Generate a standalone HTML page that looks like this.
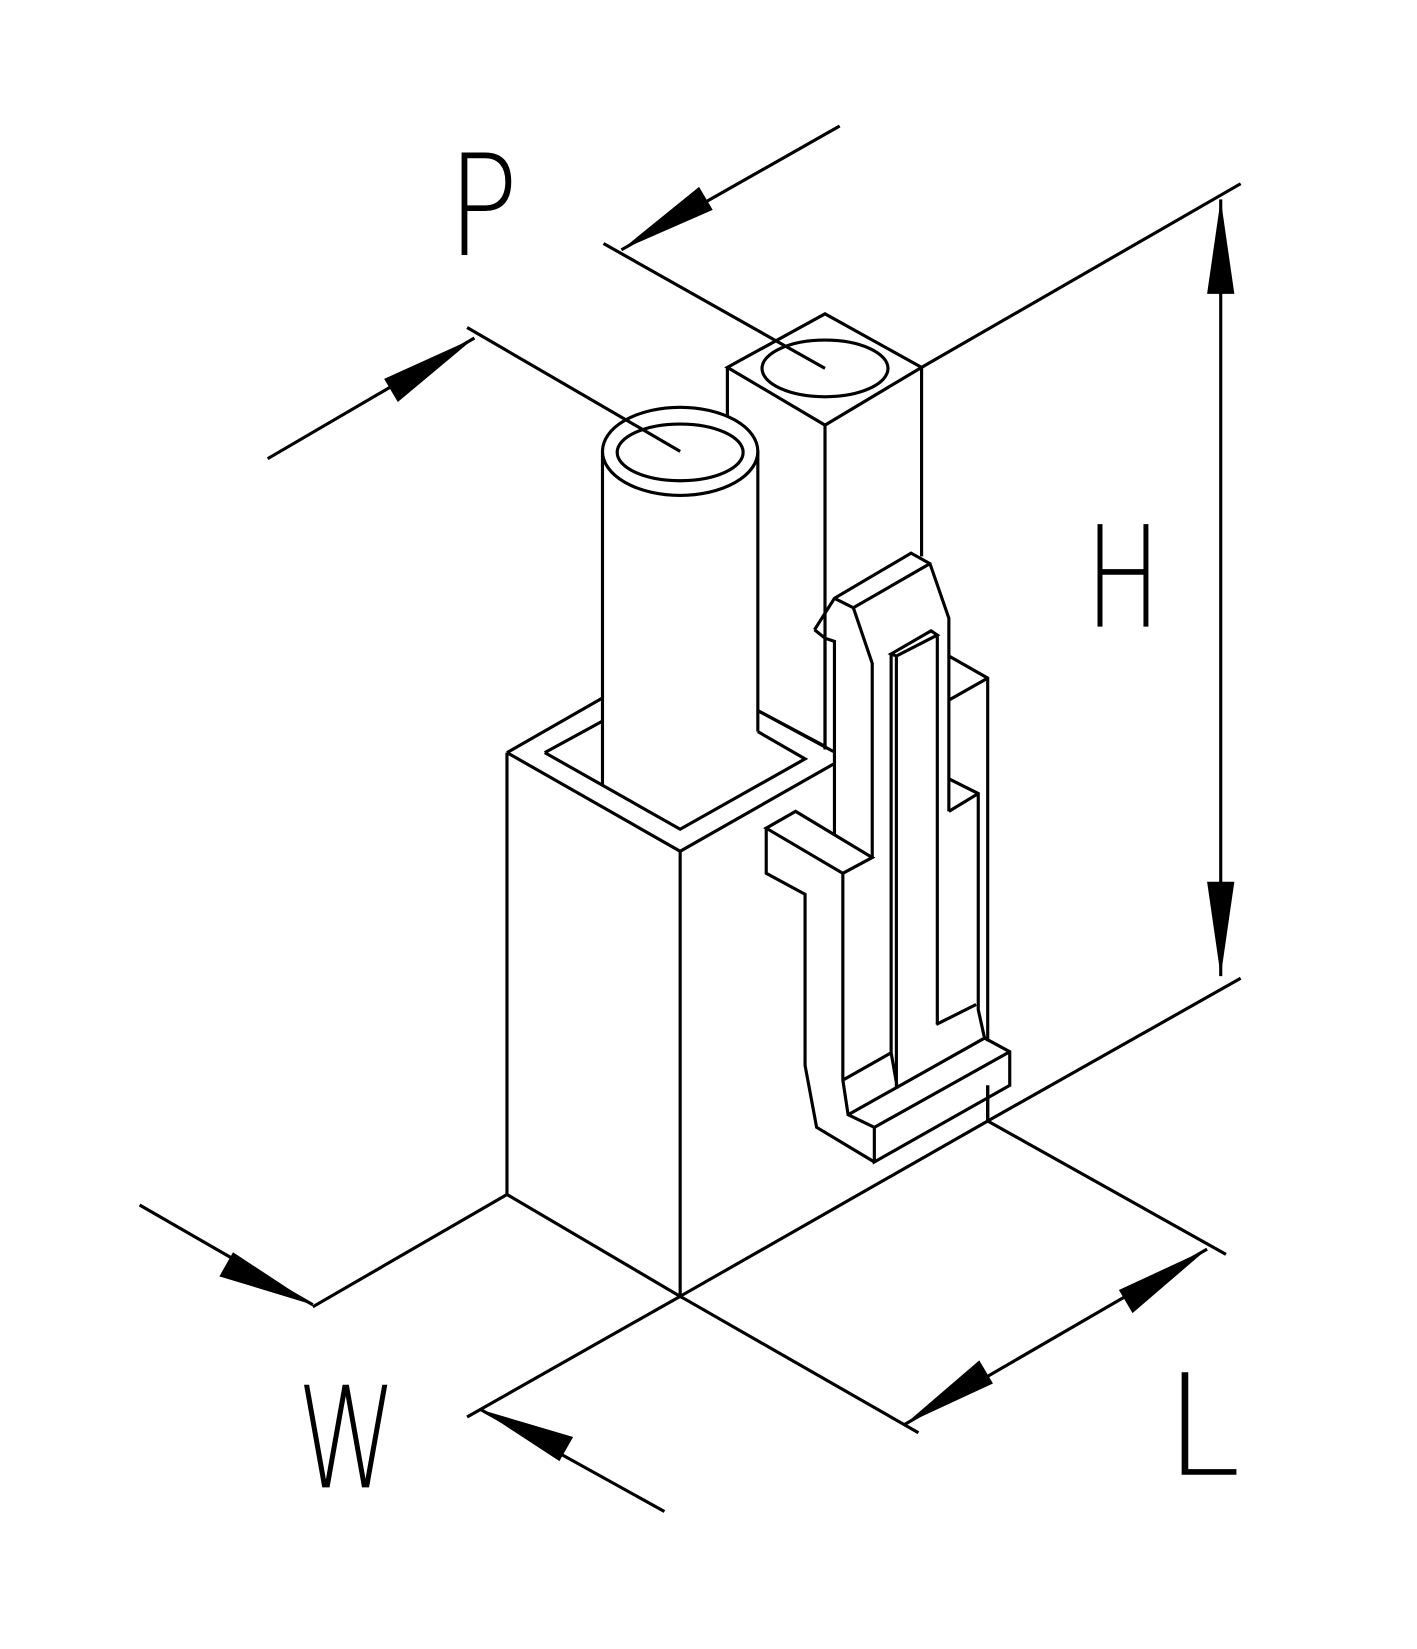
<!DOCTYPE html>
<html><head><meta charset="utf-8"><style>html,body{margin:0;padding:0;background:#fff}svg{display:block}</style></head>
<body>
<svg width="1417" height="1649" viewBox="0 0 1350 1571" preserveAspectRatio="none" xmlns="http://www.w3.org/2000/svg">
<g fill="none" stroke="#000" stroke-width="3" stroke-linejoin="miter" stroke-linecap="butt">
<!-- square back pin -->
<path d="M693,350 L786,299 L878,350 L786,405 Z"/>
<ellipse cx="786" cy="351" rx="60" ry="27"/>
<path d="M693,350 V396 M786,405 V711 M878,350 V530 M722,677 L786,711"/>
<!-- cylinder -->
<path d="M574,430 V748 M722,430 V697"/>
<ellipse cx="648" cy="430" rx="74" ry="42" fill="#fff"/>
<ellipse cx="648" cy="431" rx="60" ry="27"/>
<!-- main block -->
<path d="M483,717 L574,665 M722,677 L794,716 M483,717 L648,811 L794,728 M519,717 L574,687 M519,717 L648,790 L767,723 L722,697"/>
<path d="M483,717 V1138 L648,1235 V811 M648,1235 L941,1068 V1034"/>
<!-- latch hook -->
<path d="M776,600 L795,570 L868,527 L886,537 L904,589 V773 M904,625 L941,646 V992 M904,667 L941,646"/>
<path d="M795,570 L813,579 L886,537 M813,579 L831,632 V817"/>
<path d="M776,600 L786,608 V714 M786,608 L795,611 V796"/>
<path d="M904,742 L932,756 V962 L938,989 M904,773 L932,756"/>
<!-- slot -->
<path d="M849,623 L887,601 L893,605 L854,625 Z M849,623 V1003 L855,1037 M854,625 V1037 M893,605 V976"/>
<path d="M892,976 L930,957"/>
<!-- tab -->
<path d="M730,789 L758,773 L831,817 L803,832 Z M730,789 V832 L767,852 V1015 L778,1074 L833,1107 M803,832 V1029 L808,1062 L833,1074 V1107 L962,1034 V1002 L938,989 L808,1062 M833,1074 L962,1002 M803,1029 L849,1003"/>
<path d="M941,1034 V1068"/>
<!-- dimension extension lines -->
<path d="M445,312 L648,430 M575,232 L786,351 M878,350 L1182,175 M941,1068 L1182,932 M941,1068 L1168,1195 M648,1235 L875,1365 M483,1138 L298,1245 M648,1235 L445,1350"/>
<!-- dimension lines -->
<path d="M255,437 L452,322 M800,120 L592,238 M1163,190 V930 M862,1357 L1150,1190 M133,1148 L298,1243 M633,1440 L458,1343"/>
</g>
<g fill="#000" stroke="none">
<polygon points="452,322 379,383 366,361"/>
<polygon points="592,238 666,178 679,200"/>
<polygon points="1163,190 1176,280 1150,280"/>
<polygon points="1163,930 1150,840 1176,840"/>
<polygon points="862,1357 933,1296 946,1318"/>
<polygon points="1150,1190 1079,1251 1066,1229"/>
<polygon points="298,1243 209,1216 222,1193"/>
<polygon points="458,1343 546,1369 533,1392"/>
</g>
<g font-family="'DejaVu Sans ExtraLight', 'DejaVu Sans', sans-serif" font-weight="200" font-size="134" fill="#000">
<text x="426" y="243" textLength="68" lengthAdjust="spacingAndGlyphs">P</text>
<text x="1034" y="597" textLength="72" lengthAdjust="spacingAndGlyphs">H</text>
<text x="283" y="1417" textLength="95" lengthAdjust="spacingAndGlyphs">W</text>
<text x="1110" y="1405" textLength="72" lengthAdjust="spacingAndGlyphs">L</text>
</g>
</svg>
</body></html>
